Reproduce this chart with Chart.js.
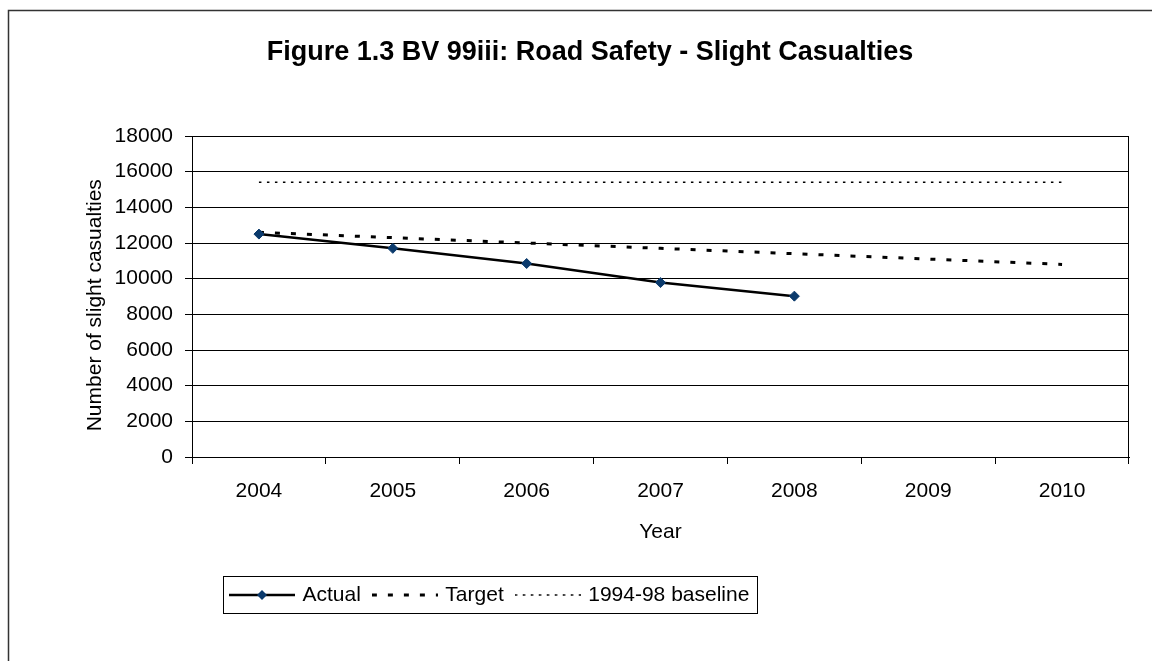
<!DOCTYPE html>
<html>
<head>
<meta charset="utf-8">
<title>Figure 1.3 BV 99iii: Road Safety - Slight Casualties</title>
<script src="https://cdn.jsdelivr.net/npm/chart.js@4.4.0/dist/chart.umd.min.js"></script>
<style>
  html, body { margin: 0; padding: 0; background: #fff; overflow: hidden; }
  #wrap { width: 1152px; height: 661px; }
</style>
</head>
<body>
<div id="wrap"><canvas id="casualties" width="1152" height="661"></canvas></div>
<script>
const years = ['2004', '2005', '2006', '2007', '2008', '2009', '2010']
const actual = [12500, 11700, 10850, 9780, 9020, null, null]
const target = [12600, 12300, 12000, 11700, 11400, 11100, 10800]
const baseline = [15400, 15400, 15400, 15400, 15400, 15400, 15400]
const yMin = 0
const yMax = 18000
const yStep = 2000

const FONT = "Arial, 'Liberation Sans', sans-serif"
const NAVY = '#0b3a6c'

// small canvases used as the legend samples (line + optional diamond)
function makeSample(dash, width, marker) {
  const c = document.createElement('canvas')
  c.width = 66
  c.height = 14
  const ctx = c.getContext('2d')
  ctx.strokeStyle = '#000'
  ctx.lineWidth = width
  ctx.setLineDash(dash)
  ctx.beginPath()
  ctx.moveTo(0, 7)
  ctx.lineTo(66, 7)
  ctx.stroke()
  if (marker) {
    ctx.fillStyle = NAVY
    ctx.beginPath()
    ctx.moveTo(33, 2)
    ctx.lineTo(38, 7)
    ctx.lineTo(33, 12)
    ctx.lineTo(28, 7)
    ctx.closePath()
    ctx.fill()
  }
  return c
}

const samples = [
  makeSample([], 2.5, true),
  makeSample([5, 11], 3, false),
  makeSample([2.5, 5.5], 1.5, false)
]

const frame = {
  id: 'frame',
  beforeDraw(chart) {
    const ctx = chart.ctx
    ctx.save()
    ctx.fillStyle = '#fff'
    ctx.fillRect(0, 0, chart.width, chart.height)
    ctx.strokeStyle = '#333'
    ctx.lineWidth = 1.5
    ctx.strokeRect(8.5, 10.5, 1400, 1000)
    ctx.restore()
  },
  afterLayout(chart) {
    chart.titleBlock.left += 25.5
    chart.titleBlock.right += 25.5
    chart.legend.left = 218
  },
  afterDraw(chart) {
    const boxes = chart.legend.legendHitBoxes
    if (!boxes || !boxes.length) return
    const last = boxes[boxes.length - 1]
    const cy = boxes[0].top + boxes[0].height / 2
    const x0 = boxes[0].left - 9
    const x1 = last.left + last.width + 8
    const ctx = chart.ctx
    ctx.save()
    ctx.strokeStyle = '#000'
    ctx.lineWidth = 1
    ctx.strokeRect(Math.round(x0) + 0.5, Math.round(cy - 19) + 0.5, Math.round(x1 - x0), 37)
    ctx.restore()
  }
}

Chart.defaults.font.family = FONT
Chart.defaults.font.size = 21
Chart.defaults.color = '#000'

const ctx = document.getElementById('casualties').getContext('2d')
const chart = new Chart(ctx, {
  type: 'line',
  data: {
    labels: years,
    datasets: [
      {
        label: 'Actual',
        data: actual,
        borderColor: '#000',
        borderWidth: 2.5,
        pointStyle: 'rectRot',
        pointRadius: 5,
        pointBackgroundColor: NAVY,
        pointBorderColor: NAVY,
        pointBorderWidth: 1,
        tension: 0
      },
      {
        label: 'Target',
        data: target,
        borderColor: '#000',
        borderWidth: 3,
        borderDash: [5, 11],
        pointRadius: 0,
        tension: 0
      },
      {
        label: '1994-98 baseline',
        data: baseline,
        borderColor: '#000',
        borderWidth: 1.5,
        borderDash: [2.5, 5.5],
        pointRadius: 0,
        tension: 0
      }
    ]
  },
  options: {
    responsive: false,
    animation: false,
    events: [],
    layout: { padding: { top: 0, left: 0, right: 23, bottom: 45.5 } },
    plugins: {
      tooltip: { enabled: false },
      title: {
        display: true,
        text: 'Figure 1.3 BV 99iii: Road Safety - Slight Casualties',
        font: { size: 27, weight: 'bold' },
        color: '#000',
        padding: { top: 36, bottom: 67.6 }
      },
      legend: {
        position: 'bottom',
        align: 'start',
        labels: {
          usePointStyle: true,
          pointStyleWidth: 60,
          padding: 14,
          font: { size: 21 },
          color: '#000',
          generateLabels: function (chart) {
            return chart.data.datasets.map((ds, i) => ({
              text: ds.label,
              datasetIndex: i,
              pointStyle: samples[i],
              fillStyle: 'transparent',
              strokeStyle: 'transparent',
              lineWidth: 0,
              hidden: false
            }))
          }
        }
      }
    },
    scales: {
      x: {
        offset: true,
        grid: {
          offset: true,
          drawOnChartArea: true,
          color: c => (c.tick ? 'transparent' : '#000'),
          tickColor: '#000',
          tickLength: 7,
          lineWidth: 1
        },
        border: { color: '#000', width: 1 },
        ticks: { padding: 15, font: { size: 21 }, color: '#000', maxRotation: 0 },
        title: {
          display: true,
          text: 'Year',
          font: { size: 21 },
          color: '#000',
          padding: { top: 0, bottom: 26 }
        },
        afterFit: s => { s.height = 113.5 }
      },
      y: {
        min: yMin,
        max: yMax,
        grid: { color: '#000', tickColor: '#000', tickLength: 7, lineWidth: 1 },
        border: { color: '#000', width: 1 },
        ticks: {
          stepSize: yStep,
          padding: 12,
          font: { size: 21 },
          color: '#000',
          callback: v => String(v)
        },
        title: {
          display: true,
          // trailing spaces push the rotated text a little lower, as in the original
          text: 'Number of slight casualties\u00a0\u00a0\u00a0',
          font: { size: 21 },
          color: '#000',
          padding: { top: 83, bottom: 0 }
        },
        afterFit: s => { s.width = 192 }
      }
    }
  },
  plugins: [frame]
})
</script>
</body>
</html>
